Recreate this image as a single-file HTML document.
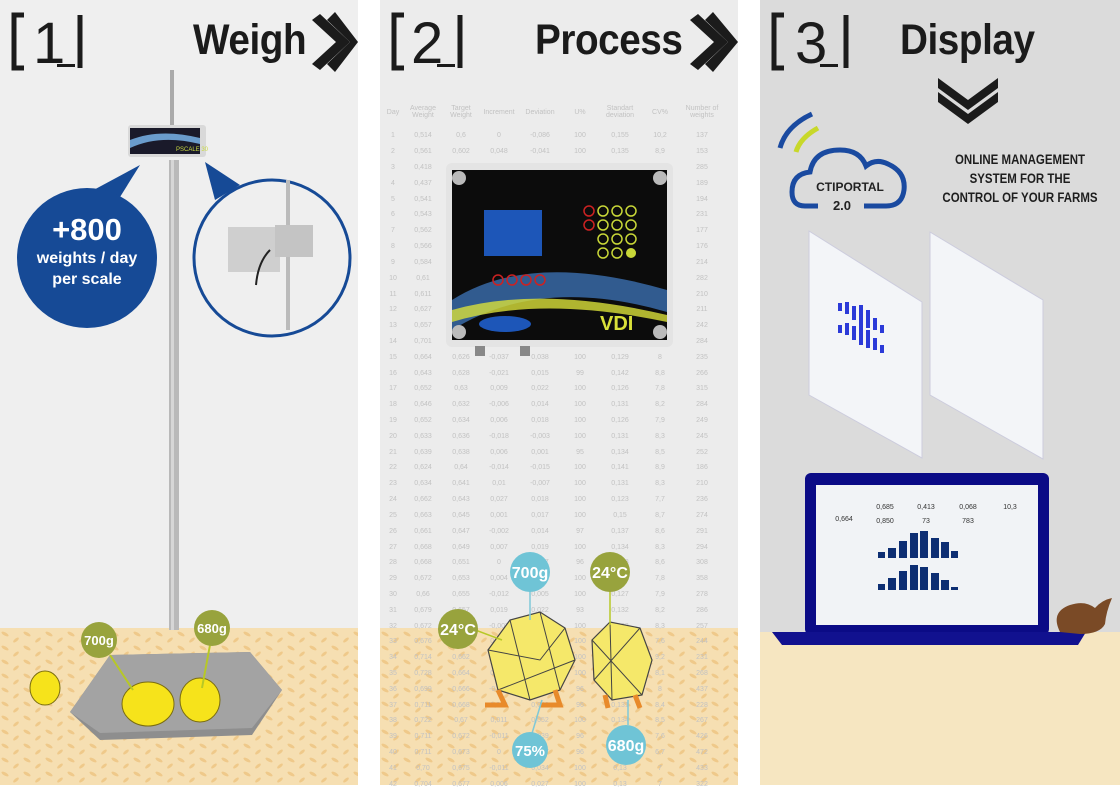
<!DOCTYPE html>
<html><head><meta charset="utf-8"><style>
*{margin:0;padding:0;box-sizing:border-box}
body{width:1120px;height:785px;overflow:hidden;background:#fff;font-family:"Liberation Sans",sans-serif;position:relative}
.a{position:absolute}
.p{position:absolute;top:0;height:785px;overflow:hidden}
.hd{position:absolute;font-weight:bold;color:#1b1b1b;font-size:43px;letter-spacing:-0.5px;transform:scaleX(.9);transform-origin:left top;white-space:nowrap}
table{position:absolute;left:384px;top:96px;border-collapse:collapse;font-size:7px;color:#c2c2c2;text-align:center}
td{height:15.82px;padding:0}
</style></head><body>

<!-- PANEL 1 -->
<div class="p" style="left:0;width:358px;background:#efefef">
 <div class="a" style="left:0;top:628px;width:358px;height:157px;background:#f6dfb2"></div>
 <svg class="a" style="left:0;top:0" width="358" height="785">
  <defs><pattern id="sd" width="22" height="14" patternUnits="userSpaceOnUse"><ellipse cx="5" cy="4" rx="4" ry="1.6" fill="#efc98a" transform="rotate(30 5 4)"/><ellipse cx="16" cy="10" rx="3.5" ry="1.5" fill="#efc98a" transform="rotate(-40 16 10)"/></pattern></defs>
  <rect x="0" y="630" width="358" height="155" fill="url(#sd)"/>
  <path d="M24 15 H14 V68 H24" stroke="#1b1b1b" stroke-width="5" fill="none"/>
  <path d="M80 15 V68" stroke="#1b1b1b" stroke-width="5"/>
  <text x="33" y="63" font-size="58" font-family="Liberation Sans" fill="#1b1b1b">1</text>
  <rect x="57" y="64" width="18" height="3" fill="#1b1b1b"/>
  <path d="M312 20 L336 42 L312 64 L320 70 L350 42 L320 14 Z" fill="#1b1b1b"/>
  <path d="M327 20 L350 42 L327 64 L335 72 L358 42 L335 12 Z" fill="#1b1b1b"/>
  <rect x="170" y="70" width="4" height="55" fill="#aaa"/>
  <rect x="169" y="160" width="10" height="470" fill="#b9b9b9"/>
  <rect x="171" y="160" width="3" height="470" fill="#d6d6d6"/>
  <rect x="128" y="125" width="78" height="32" rx="3" fill="#d9d9d9"/>
  <rect x="130" y="128" width="70" height="26" fill="#1a1a2a"/>
  <path d="M130 140 Q160 128 200 138 L200 144 Q160 134 130 148Z" fill="#6a9ccc"/>
  <text x="176" y="151" font-size="6" fill="#c9d940">PSCALE 30</text>
  <path d="M140 165 L115 205 L75 200 Z" fill="#164a96"/>
  <path d="M205 162 L240 185 L215 200 Z" fill="#164a96"/>
  <circle cx="87" cy="258" r="70" fill="#164a96"/>
  <text x="87" y="240" font-size="31" font-weight="bold" fill="#fff" text-anchor="middle">+800</text>
  <text x="87" y="263" font-size="16" font-weight="bold" fill="#fff" text-anchor="middle">weights / day</text>
  <text x="87" y="284" font-size="16" font-weight="bold" fill="#fff" text-anchor="middle">per scale</text>
  <circle cx="272" cy="258" r="78" fill="#efefef" stroke="#164a96" stroke-width="3"/>
  <rect x="286" y="180" width="4" height="150" fill="#bbb"/>
  <rect x="228" y="227" width="52" height="45" fill="#cfcfcf"/>
  <rect x="275" y="225" width="38" height="32" fill="#c4c4c4"/>
  <path d="M270 250 Q258 262 256 285" stroke="#222" stroke-width="2" fill="none"/>
  <polygon points="70,712 110,655 250,652 282,690 252,735 100,740" fill="#8e8e8e"/>
  <polygon points="70,712 110,655 250,652 282,690 252,728 100,733" fill="#a3a3a3"/>
  <ellipse cx="45" cy="688" rx="15" ry="17" fill="#f6e31b" stroke="#7a6d10"/>
  <ellipse cx="148" cy="704" rx="26" ry="22" fill="#f6e31b" stroke="#7a6d10"/>
  <ellipse cx="200" cy="700" rx="20" ry="22" fill="#f6e31b" stroke="#7a6d10"/>
  <line x1="110" y1="655" x2="133" y2="690" stroke="#b7c826" stroke-width="2"/>
  <line x1="210" y1="645" x2="202" y2="688" stroke="#b7c826" stroke-width="2"/>
  <circle cx="99" cy="640" r="18" fill="#98a33d"/>
  <text x="99" y="645" font-size="13" font-weight="bold" fill="#fff" text-anchor="middle">700g</text>
  <circle cx="212" cy="628" r="18" fill="#98a33d"/>
  <text x="212" y="633" font-size="13" font-weight="bold" fill="#fff" text-anchor="middle">680g</text>
 </svg>
 <div class="hd" style="left:193px;top:16px">Weigh</div>
</div>

<!-- PANEL 2 -->
<div class="p" style="left:380px;width:358px;background:#ececec">
 <div class="a" style="left:0;top:628px;width:358px;height:157px;background:#f6dfb2"></div>
 <svg class="a" style="left:0;top:0" width="358" height="785">
  <rect x="0" y="630" width="358" height="155" fill="url(#sd)"/>
  <path d="M24 15 H14 V68 H24" stroke="#1b1b1b" stroke-width="5" fill="none"/>
  <path d="M80 15 V68" stroke="#1b1b1b" stroke-width="5"/>
  <text x="31" y="63" font-size="58" fill="#1b1b1b">2</text>
  <rect x="57" y="64" width="18" height="3" fill="#1b1b1b"/>
  <path d="M310 20 L334 42 L310 64 L318 70 L348 42 L318 14 Z" fill="#1b1b1b"/>
  <path d="M325 20 L348 42 L325 64 L333 72 L358 42 L333 12 Z" fill="#1b1b1b"/>
 </svg>
 <div class="hd" style="left:155px;top:16px">Process</div>
</div>
<table>
<tr style="height:32px"><td style="width:18px">Day</td><td style="width:42px">Average<br>Weight</td><td style="width:34px">Target<br>Weight</td><td style="width:42px">Increment</td><td style="width:40px">Deviation</td><td style="width:40px">U%</td><td style="width:40px">Standart<br>deviation</td><td style="width:40px">CV%</td><td style="width:44px">Number of<br>weights</td></tr>
<tr><td>1</td><td>0,514</td><td>0,6</td><td>0</td><td>-0,086</td><td>100</td><td>0,155</td><td>10,2</td><td>137</td></tr>
<tr><td>2</td><td>0,561</td><td>0,602</td><td>0,048</td><td>-0,041</td><td>100</td><td>0,135</td><td>8,9</td><td>153</td></tr>
<tr><td>3</td><td>0,418</td><td>0,604</td><td>-0,143</td><td>-0,186</td><td>98</td><td>0,115</td><td>8,1</td><td>285</td></tr>
<tr><td>4</td><td>0,437</td><td>0,606</td><td>0,019</td><td>-0,169</td><td>100</td><td>0,130</td><td>9,8</td><td>189</td></tr>
<tr><td>5</td><td>0,541</td><td>0,608</td><td>0,104</td><td>-0,067</td><td>100</td><td>0,126</td><td>9,2</td><td>194</td></tr>
<tr><td>6</td><td>0,543</td><td>0,61</td><td>0,002</td><td>-0,067</td><td>100</td><td>0,130</td><td>8</td><td>231</td></tr>
<tr><td>7</td><td>0,562</td><td>0,612</td><td>0,019</td><td>-0,05</td><td>100</td><td>0,131</td><td>7,8</td><td>177</td></tr>
<tr><td>8</td><td>0,566</td><td>0,614</td><td>0,004</td><td>-0,048</td><td>100</td><td>0,128</td><td>9,1</td><td>176</td></tr>
<tr><td>9</td><td>0,584</td><td>0,616</td><td>0,018</td><td>-0,032</td><td>100</td><td>0,127</td><td>7,8</td><td>214</td></tr>
<tr><td>10</td><td>0,61</td><td>0,618</td><td>0,026</td><td>-0,008</td><td>100</td><td>0,133</td><td>8,3</td><td>282</td></tr>
<tr><td>11</td><td>0,611</td><td>0,62</td><td>0,001</td><td>-0,009</td><td>100</td><td>0,129</td><td>9</td><td>210</td></tr>
<tr><td>12</td><td>0,627</td><td>0,622</td><td>0,016</td><td>0,005</td><td>100</td><td>0,126</td><td>8,2</td><td>211</td></tr>
<tr><td>13</td><td>0,657</td><td>0,624</td><td>0,03</td><td>0,033</td><td>100</td><td>0,130</td><td>9,4</td><td>242</td></tr>
<tr><td>14</td><td>0,701</td><td>0,626</td><td>0,044</td><td>0,075</td><td>100</td><td>0,128</td><td>7,8</td><td>284</td></tr>
<tr><td>15</td><td>0,664</td><td>0,626</td><td>-0,037</td><td>0,038</td><td>100</td><td>0,129</td><td>8</td><td>235</td></tr>
<tr><td>16</td><td>0,643</td><td>0,628</td><td>-0,021</td><td>0,015</td><td>99</td><td>0,142</td><td>8,8</td><td>266</td></tr>
<tr><td>17</td><td>0,652</td><td>0,63</td><td>0,009</td><td>0,022</td><td>100</td><td>0,126</td><td>7,8</td><td>315</td></tr>
<tr><td>18</td><td>0,646</td><td>0,632</td><td>-0,006</td><td>0,014</td><td>100</td><td>0,131</td><td>8,2</td><td>284</td></tr>
<tr><td>19</td><td>0,652</td><td>0,634</td><td>0,006</td><td>0,018</td><td>100</td><td>0,126</td><td>7,9</td><td>249</td></tr>
<tr><td>20</td><td>0,633</td><td>0,636</td><td>-0,018</td><td>-0,003</td><td>100</td><td>0,131</td><td>8,3</td><td>245</td></tr>
<tr><td>21</td><td>0,639</td><td>0,638</td><td>0,006</td><td>0,001</td><td>95</td><td>0,134</td><td>8,5</td><td>252</td></tr>
<tr><td>22</td><td>0,624</td><td>0,64</td><td>-0,014</td><td>-0,015</td><td>100</td><td>0,141</td><td>8,9</td><td>186</td></tr>
<tr><td>23</td><td>0,634</td><td>0,641</td><td>0,01</td><td>-0,007</td><td>100</td><td>0,131</td><td>8,3</td><td>210</td></tr>
<tr><td>24</td><td>0,662</td><td>0,643</td><td>0,027</td><td>0,018</td><td>100</td><td>0,123</td><td>7,7</td><td>236</td></tr>
<tr><td>25</td><td>0,663</td><td>0,645</td><td>0,001</td><td>0,017</td><td>100</td><td>0,15</td><td>8,7</td><td>274</td></tr>
<tr><td>26</td><td>0,661</td><td>0,647</td><td>-0,002</td><td>0,014</td><td>97</td><td>0,137</td><td>8,6</td><td>291</td></tr>
<tr><td>27</td><td>0,668</td><td>0,649</td><td>0,007</td><td>0,019</td><td>100</td><td>0,134</td><td>8,3</td><td>294</td></tr>
<tr><td>28</td><td>0,668</td><td>0,651</td><td>0</td><td>0,017</td><td>96</td><td>0,138</td><td>8,6</td><td>308</td></tr>
<tr><td>29</td><td>0,672</td><td>0,653</td><td>0,004</td><td>0,019</td><td>100</td><td>0,125</td><td>7,8</td><td>358</td></tr>
<tr><td>30</td><td>0,66</td><td>0,655</td><td>-0,012</td><td>0,005</td><td>100</td><td>0,127</td><td>7,9</td><td>278</td></tr>
<tr><td>31</td><td>0,679</td><td>0,657</td><td>0,019</td><td>0,022</td><td>93</td><td>0,132</td><td>8,2</td><td>286</td></tr>
<tr><td>32</td><td>0,672</td><td>0,659</td><td>-0,007</td><td>0,013</td><td>100</td><td>0,133</td><td>8,3</td><td>257</td></tr>
<tr><td>33</td><td>0,676</td><td>0,66</td><td>0,004</td><td>0,016</td><td>100</td><td>0,13</td><td>7,6</td><td>244</td></tr>
<tr><td>34</td><td>0,714</td><td>0,662</td><td>0,038</td><td>0,052</td><td>100</td><td>0,131</td><td>9,2</td><td>231</td></tr>
<tr><td>35</td><td>0,728</td><td>0,664</td><td>0,014</td><td>0,064</td><td>100</td><td>0,135</td><td>8,1</td><td>268</td></tr>
<tr><td>36</td><td>0,699</td><td>0,666</td><td>-0,029</td><td>0,033</td><td>96</td><td>0,129</td><td>8</td><td>437</td></tr>
<tr><td>37</td><td>0,711</td><td>0,668</td><td>0,012</td><td>0,043</td><td>96</td><td>0,131</td><td>8,4</td><td>228</td></tr>
<tr><td>38</td><td>0,722</td><td>0,67</td><td>0,011</td><td>0,052</td><td>100</td><td>0,134</td><td>8,5</td><td>267</td></tr>
<tr><td>39</td><td>0,711</td><td>0,672</td><td>-0,011</td><td>0,039</td><td>96</td><td>0,13</td><td>7,6</td><td>426</td></tr>
<tr><td>40</td><td>0,711</td><td>0,673</td><td>0</td><td>0,037</td><td>96</td><td>0,132</td><td>6,7</td><td>472</td></tr>
<tr><td>41</td><td>0,70</td><td>0,675</td><td>-0,011</td><td>0,034</td><td>100</td><td>0,13</td><td>7</td><td>433</td></tr>
<tr><td>42</td><td>0,704</td><td>0,677</td><td>0,006</td><td>0,027</td><td>100</td><td>0,13</td><td>7</td><td>322</td></tr>
</table>
<svg class="a" style="left:380px;top:0" width="358" height="785">
  <rect x="66" y="163" width="227" height="184" rx="6" fill="#e4e4e4"/>
  <rect x="72" y="170" width="215" height="170" fill="#0c0c0c"/>
  <path d="M72 300 Q150 250 287 290 L287 312 Q160 275 72 330Z" fill="#3b6fb0" opacity=".8"/>
  <path d="M72 310 Q160 285 287 315 L287 322 Q160 295 72 322Z" fill="#d9e03a" opacity=".8"/>
  <circle cx="79" cy="178" r="7" fill="#bbb"/><circle cx="280" cy="178" r="7" fill="#bbb"/>
  <circle cx="79" cy="332" r="7" fill="#bbb"/><circle cx="280" cy="332" r="7" fill="#bbb"/>
  <rect x="104" y="210" width="58" height="46" fill="#1d56b8"/>
  <g fill="none" stroke="#c8d738" stroke-width="1.5"><circle cx="223" cy="211" r="5"/><circle cx="237" cy="211" r="5"/><circle cx="251" cy="211" r="5"/><circle cx="223" cy="225" r="5"/><circle cx="237" cy="225" r="5"/><circle cx="251" cy="225" r="5"/><circle cx="223" cy="239" r="5"/><circle cx="237" cy="239" r="5"/><circle cx="251" cy="239" r="5"/><circle cx="223" cy="253" r="5"/><circle cx="237" cy="253" r="5"/></g>
  <circle cx="209" cy="211" r="5" fill="none" stroke="#c22" stroke-width="1.5"/><circle cx="209" cy="225" r="5" fill="none" stroke="#c22" stroke-width="1.5"/>
  <circle cx="251" cy="253" r="5" fill="#c8d738"/>
  <g fill="none" stroke="#c22" stroke-width="1.5"><circle cx="118" cy="280" r="5"/><circle cx="132" cy="280" r="5"/><circle cx="146" cy="280" r="5"/><circle cx="160" cy="280" r="5"/></g>
  <text x="220" y="330" font-size="20" font-weight="bold" fill="#d9e03a">VDI</text>
  <ellipse cx="125" cy="324" rx="26" ry="8" fill="#1d56b8"/>
  <rect x="95" y="346" width="10" height="10" fill="#888"/><rect x="140" y="346" width="10" height="10" fill="#888"/>
  <polygon points="108,650 130,620 160,612 185,628 195,660 180,690 150,700 118,690" fill="#f5e86a" stroke="#444" stroke-width="1.2"/>
  <polygon points="212,640 230,622 260,628 272,660 262,695 232,700 214,680" fill="#f5e86a" stroke="#444" stroke-width="1.2"/>
  <path d="M108 650 L160 660 L185 628 M130 620 L150 700 M160 612 L180 690 M118 690 L195 660 M212 640 L262 695 M230 622 L232 700 M260 628 L214 680" stroke="#444" stroke-width="1" fill="none"/>
  <path d="M118 690 L125 705 L105 705 M175 690 L180 705 L160 705 M225 695 L228 708 M255 695 L260 708" stroke="#e88a2a" stroke-width="5" fill="none"/>
  <line x1="90" y1="628" x2="122" y2="640" stroke="#b7c826" stroke-width="1.5"/>
  <line x1="150" y1="590" x2="150" y2="620" stroke="#7fc8d8" stroke-width="1.5"/>
  <line x1="230" y1="590" x2="230" y2="625" stroke="#b7c826" stroke-width="1.5"/>
  <line x1="162" y1="700" x2="150" y2="740" stroke="#7fc8d8" stroke-width="1.5"/>
  <line x1="248" y1="700" x2="248" y2="725" stroke="#7fc8d8" stroke-width="1.5"/>
  <circle cx="78" cy="629" r="20" fill="#98a33d"/><text x="78" y="635" font-size="16" font-weight="bold" fill="#fff" text-anchor="middle">24°C</text>
  <circle cx="150" cy="572" r="20" fill="#6fc4d6"/><text x="150" y="578" font-size="16" font-weight="bold" fill="#fff" text-anchor="middle">700g</text>
  <circle cx="230" cy="572" r="20" fill="#98a33d"/><text x="230" y="578" font-size="16" font-weight="bold" fill="#fff" text-anchor="middle">24°C</text>
  <circle cx="150" cy="750" r="18" fill="#6fc4d6"/><text x="150" y="756" font-size="15" font-weight="bold" fill="#fff" text-anchor="middle">75%</text>
  <circle cx="246" cy="745" r="20" fill="#6fc4d6"/><text x="246" y="751" font-size="16" font-weight="bold" fill="#fff" text-anchor="middle">680g</text>
</svg>

<!-- PANEL 3 -->
<div class="p" style="left:760px;width:360px;background:#dbdbdb">
 <div class="a" style="left:0;top:632px;width:360px;height:153px;background:#f6e6c1"></div>
 <svg class="a" style="left:0;top:0" width="360" height="785">
  <path d="M24 15 H14 V68 H24" stroke="#1b1b1b" stroke-width="5" fill="none"/>
  <path d="M86 15 V68" stroke="#1b1b1b" stroke-width="5"/>
  <text x="35" y="63" font-size="58" fill="#1b1b1b">3</text>
  <rect x="60" y="64" width="18" height="3" fill="#1b1b1b"/>
  <path d="M178 78 L208 100 L238 78 L238 88 L208 110 L178 88Z" fill="#1b1b1b"/>
  <path d="M178 92 L208 114 L238 92 L238 102 L208 124 L178 102Z" fill="#1b1b1b"/>
  <path d="M20 148 Q26 126 52 114" stroke="#1a4aa0" stroke-width="5" fill="none"/>
  <path d="M36 152 Q40 138 58 128" stroke="#c8d82a" stroke-width="5" fill="none"/>
  <path d="M58 206 H45 Q32 206 32 192 Q32 174 50 172 Q54 150 80 150 Q100 150 106 166 Q116 158 128 164 Q146 172 144 190 Q142 206 126 206 H104" stroke="#1a4aa0" stroke-width="5" fill="none"/>
  <text x="90" y="191" font-size="12" font-weight="bold" fill="#222" text-anchor="middle">CTIPORTAL</text>
  <text x="82" y="210" font-size="13" font-weight="bold" fill="#222" text-anchor="middle">2.0</text>
  <polygon points="809,231 922,302 922,458 809,395" transform="translate(-760,0)" fill="#f3f5f8" stroke="#ccd" />
  <polygon points="930,232 1043,300 1043,459 930,395" transform="translate(-760,0)" fill="#f3f5f8" stroke="#ccd"/>
  <g transform="translate(-760,0)" fill="#2b3ad8">
   <rect x="838" y="303" width="4" height="8"/><rect x="845" y="302" width="4" height="12"/><rect x="852" y="306" width="4" height="14"/><rect x="859" y="305" width="4" height="20"/><rect x="866" y="310" width="4" height="18"/><rect x="873" y="318" width="4" height="12"/><rect x="880" y="325" width="4" height="8"/>
   <rect x="838" y="325" width="4" height="8"/><rect x="845" y="323" width="4" height="12"/><rect x="852" y="326" width="4" height="14"/><rect x="859" y="325" width="4" height="20"/><rect x="866" y="330" width="4" height="18"/><rect x="873" y="338" width="4" height="12"/><rect x="880" y="345" width="4" height="8"/>
  </g>
  <rect x="45" y="473" width="244" height="162" rx="6" fill="#0b0b86"/>
  <rect x="56" y="485" width="222" height="140" fill="#f1f3f6"/>
  <path d="M12 632 H326 L318 645 H22 Z" fill="#11118f"/>
  <g fill="#0d2e73">
   <rect x="118" y="552" width="7" height="6"/><rect x="128" y="548" width="8" height="10"/><rect x="139" y="541" width="8" height="17"/><rect x="150" y="533" width="8" height="25"/><rect x="160" y="531" width="8" height="27"/><rect x="171" y="538" width="8" height="20"/><rect x="181" y="542" width="8" height="16"/><rect x="191" y="551" width="7" height="7"/>
   <rect x="118" y="584" width="7" height="6"/><rect x="128" y="578" width="8" height="12"/><rect x="139" y="571" width="8" height="19"/><rect x="150" y="565" width="8" height="25"/><rect x="160" y="567" width="8" height="23"/><rect x="171" y="573" width="8" height="17"/><rect x="181" y="580" width="8" height="10"/><rect x="191" y="587" width="7" height="3"/>
  </g>
  <g font-size="7" fill="#333" text-anchor="middle"><text x="84" y="521">0,664</text><text x="125" y="509">0,685</text><text x="166" y="509">0,413</text><text x="208" y="509">0,068</text><text x="250" y="509">10,3</text><text x="125" y="523">0,850</text><text x="166" y="523">73</text><text x="208" y="523">783</text></g>
  <path d="M300 632 Q290 612 310 605 Q325 600 335 608 Q342 600 352 598 Q346 612 345 624 Q340 634 320 634Z" fill="#7a4a26"/>
 </svg>
 <div class="a" style="left:160px;top:150px;width:200px;text-align:center;font-size:13.5px;font-weight:bold;color:#1e1e1e;line-height:19px;transform:scaleX(.85)">ONLINE MANAGEMENT<br>SYSTEM FOR THE<br>CONTROL OF YOUR FARMS</div>
 <div class="hd" style="left:140px;top:16px">Display</div>
</div>
</body></html>
